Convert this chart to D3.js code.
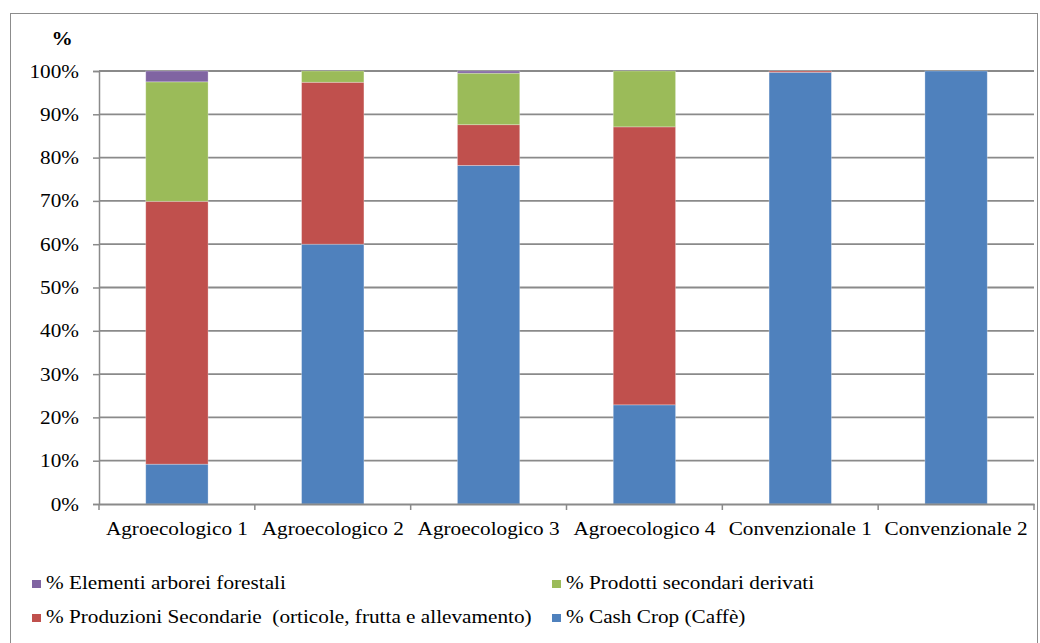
<!DOCTYPE html>
<html>
<head>
<meta charset="utf-8">
<script src="https://cdn.jsdelivr.net/npm/d3@7"></script>
<style>
  html, body { margin: 0; padding: 0; background: #fff; }
</style>
</head>
<body>
<svg id="chart" width="1040" height="643"></svg>
<script>
// Farm categories
const categories = ["Agroecologico 1", "Agroecologico 2", "Agroecologico 3", "Agroecologico 4", "Convenzionale 1", "Convenzionale 2"];

// Share of each component (%) per farm, stacked bottom to top
const cashCrop      = [9.2, 60.0, 78.2, 22.9, 99.7, 100];
const produzioniSec = [60.7, 37.4, 9.4, 64.2, 0.3, 0];
const prodottiDer   = [27.6, 2.6, 11.9, 12.9, 0, 0];
const elementiArb   = [2.5, 0, 0.5, 0, 0, 0];

const seriesNames = [
  "% Cash Crop (Caffè)",
  "% Produzioni Secondarie  (orticole, frutta e allevamento)",
  "% Prodotti secondari derivati",
  "% Elementi arborei forestali"
];
const seriesValues = [cashCrop, produzioniSec, prodottiDer, elementiArb];
const seriesColors = ["#4F81BD", "#C0504D", "#9BBB59", "#8064A2"];

const yTicks = [0, 10, 20, 30, 40, 50, 60, 70, 80, 90, 100];

const FONT = "'Liberation Serif', 'Times New Roman', Times, serif";
const svg = d3.select("#chart").attr("font-family", FONT);
const plot = { left: 99, right: 1034, top: 71, bottom: 504 };
const sx = 1.18; // horizontal stretch applied to text

// Outer frame
svg.append("rect")
  .attr("x", 10.5).attr("y", 13.5)
  .attr("width", 1027).attr("height", 640)
  .attr("fill", "none").attr("stroke", "#8c8c8c").attr("stroke-width", 1);

const x = d3.scaleBand().domain(categories).range([plot.left, plot.right]).padding(0);
const y = d3.scaleLinear().domain([0, 100]).range([plot.bottom, plot.top]);

// Horizontal gridlines
svg.append("g").selectAll("line").data(yTicks.filter(d => d > 0)).join("line")
  .attr("x1", plot.left).attr("x2", plot.right)
  .attr("y1", d => y(d)).attr("y2", d => y(d))
  .attr("stroke", "#8a8a8a").attr("stroke-width", 1.8);

// Stacked data
const rows = categories.map((c, i) => {
  const r = { cat: c };
  seriesNames.forEach((s, j) => r[s] = seriesValues[j][i]);
  return r;
});
const stack = d3.stack().keys(seriesNames)(rows);
const barW = x.bandwidth() * 0.4;

svg.append("g").selectAll("g").data(stack).join("g")
  .attr("fill", (d, i) => seriesColors[i])
  .selectAll("rect").data(d => d.filter(p => p[1] - p[0] > 0)).join("rect")
  .attr("x", d => x(d.data.cat) + (x.bandwidth() - barW) / 2)
  .attr("width", barW)
  .attr("y", d => y(d[1]))
  .attr("height", d => y(d[0]) - y(d[1]))
  .attr("stroke", "rgba(255,255,255,0.35)").attr("stroke-width", 0.8);

// Y axis
const yAxis = svg.append("g")
  .attr("transform", `translate(${plot.left},0)`)
  .call(d3.axisLeft(y).tickValues(yTicks).tickSize(6).tickFormat(d => d + "%"))
  .attr("font-family", FONT);
yAxis.select(".domain").attr("stroke", "#8a8a8a").attr("stroke-width", 1.5);
yAxis.selectAll(".tick line").attr("stroke", "#8a8a8a").attr("stroke-width", 1.5);
yAxis.selectAll(".tick text")
  .attr("x", null).attr("dy", null)
  .attr("text-anchor", "end")
  .attr("font-family", FONT)
  .attr("font-size", 18)
  .attr("fill", "#000")
  .attr("transform", `translate(-20,6) scale(${sx},1)`);

// X axis
const xAxis = svg.append("g")
  .attr("transform", `translate(0,${plot.bottom})`)
  .call(d3.axisBottom(x).tickSize(0).tickPadding(0))
  .attr("font-family", FONT);
xAxis.select(".domain").attr("stroke", "#8a8a8a").attr("stroke-width", 1.8);
xAxis.selectAll(".tick text")
  .attr("y", null).attr("dy", null)
  .attr("font-family", FONT)
  .attr("font-size", 18)
  .attr("fill", "#000")
  .attr("text-anchor", "middle")
  .attr("transform", `translate(0,31) scale(${sx},1)`);
// Category separator ticks
const bounds = categories.map(c => x(c)).concat([plot.right]);
svg.append("g").selectAll("line").data(bounds).join("line")
  .attr("x1", d => d).attr("x2", d => d)
  .attr("y1", plot.bottom).attr("y2", plot.bottom + 6)
  .attr("stroke", "#8a8a8a").attr("stroke-width", 1.5);

// Axis unit label
svg.append("text")
  .attr("transform", `translate(62,45) scale(${sx},1)`)
  .attr("text-anchor", "middle")
  .attr("font-family", FONT)
  .attr("font-size", 18).attr("font-weight", "bold")
  .text("%");

// Legend
const legendItems = [
  { name: seriesNames[3], color: seriesColors[3], x: 32, y: 589 },
  { name: seriesNames[2], color: seriesColors[2], x: 552, y: 589 },
  { name: seriesNames[1], color: seriesColors[1], x: 32, y: 623 },
  { name: seriesNames[0], color: seriesColors[0], x: 552, y: 623 }
];
const lg = svg.append("g").selectAll("g").data(legendItems).join("g");
lg.append("rect")
  .attr("x", d => d.x).attr("y", d => d.y - 9)
  .attr("width", 9).attr("height", 8)
  .attr("fill", d => d.color);
lg.append("text")
  .attr("transform", d => `translate(${d.x + 14},${d.y}) scale(${sx},1)`)
  .attr("font-family", FONT)
  .attr("font-size", 18)
  .attr("xml:space", "preserve")
  .style("white-space", "pre")
  .text(d => d.name);
</script>
</body>
</html>
